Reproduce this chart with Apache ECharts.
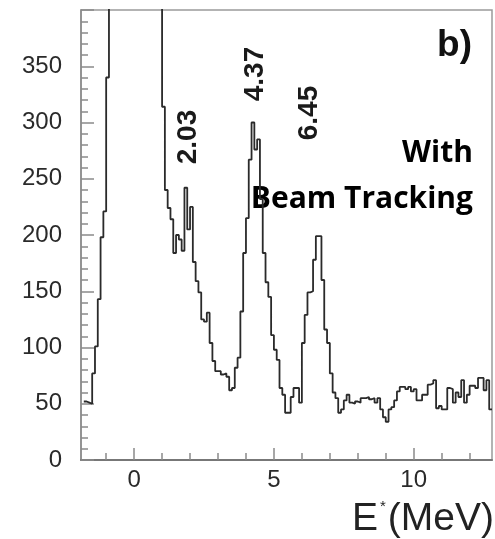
<!DOCTYPE html>
<html>
<head>
<meta charset="utf-8">
<script src="https://cdn.jsdelivr.net/npm/echarts@6/dist/echarts.min.js"></script>
<style>
html,body{margin:0;padding:0;background:#fff;}
#chart{width:495px;height:539px;}
</style>
</head>
<body>
<div id="chart"></div>
<script>
// Histogram: bin starts at binStart, each bin binWidth wide (MeV)
const binStart = -1.8;
const binWidth = 0.1;
const counts = [
  52, 51, 50, 77, 101, 143, 198, 221, 340,            // -1.8 .. -1.0
  900, 900, 900, 900, 900, 900, 900, 900, 900, 900,   // -0.9 .. 0.0 (off scale)
  900, 900, 900, 900, 900, 900, 900, 900, 900,        // 0.1 .. 0.9 (off scale)
  314, 240, 224, 214, 184, 200, 196, 186, 242, 205,   // 1.0 .. 1.9
  225, 176, 159, 149, 125, 123, 131, 104, 88, 79,     // 2.0 .. 2.9
  79, 76, 77, 74, 62, 64, 82, 91, 132, 184,           // 3.0 .. 3.9
  215, 267, 300, 276, 285, 232, 184, 158, 145, 111,   // 4.0 .. 4.9
  98, 89, 64, 58, 42, 42, 56, 64, 64, 51,             // 5.0 .. 5.9
  104, 129, 149, 150, 178, 199, 199, 160, 116, 104,   // 6.0 .. 6.9
  77, 60, 55, 42, 45, 53, 58, 51, 50, 52,             // 7.0 .. 7.9
  51, 55, 55, 56, 54, 55, 51, 55, 45, 38,             // 8.0 .. 8.9
  34, 45, 47, 53, 61, 65, 65, 63, 65, 61,             // 9.0 .. 9.9
  63, 53, 53, 58, 58, 67, 68, 71, 46, 48,             // 10.0 .. 10.9
  45, 45, 64, 63, 51, 60, 56, 71, 51, 58,             // 11.0 .. 11.9
  66, 66, 64, 73, 73, 62, 71, 45                      // 12.0 .. 12.7
];
const xLabelValues = [0, 5, 10];
const xMinorTickValues = [-1, 0, 1, 2, 3, 4, 5, 6, 7, 8, 9, 10, 11, 12];
const peakLabels = ['2.03', '4.37', '6.45'];

const pts = counts.map((v, i) => [+(binStart + i * binWidth).toFixed(2), v]);
pts.push([+(binStart + counts.length * binWidth).toFixed(2), counts[counts.length - 1]]);

const chart = echarts.init(document.getElementById('chart'));
const axisColor = '#8a8a8a';
const labelFont = 'Liberation Sans, Arial, sans-serif';
chart.setOption({
  animation: false,
  grid: { left: 81, top: 10, right: 3, bottom: 79, show: true, borderColor: '#9a9a9a', borderWidth: 1.5, backgroundColor: 'transparent' },
  xAxis: [{
    type: 'value', min: -1.9, max: 12.8, position: 'bottom',
    splitLine: { show: false },
    axisLine: { onZero: false, lineStyle: { color: '#777', width: 2 } },
    axisTick: { inside: true, length: 12, customValues: xLabelValues, lineStyle: { color: axisColor, width: 1.5 } },
    axisLabel: { customValues: xLabelValues, fontSize: 24, color: '#2a2a2a', fontFamily: labelFont, margin: 8 }
  }, {
    type: 'value', min: -1.9, max: 12.8, position: 'bottom', offset: 0,
    splitLine: { show: false },
    axisLine: { show: false, onZero: false },
    axisTick: { inside: true, length: 7, customValues: xMinorTickValues, lineStyle: { color: axisColor, width: 1.5 } },
    axisLabel: { show: false }
  }],
  yAxis: {
    type: 'value', min: 0, max: 400, interval: 50, position: 'left',
    splitLine: { show: false },
    axisLine: { show: true, onZero: false, lineStyle: { color: '#8a8a8a', width: 1.5 } },
    axisTick: { inside: true, length: 13, lineStyle: { color: axisColor, width: 1.5 } },
    minorTick: { show: true, splitNumber: 5, length: 7, lineStyle: { color: axisColor, width: 1.5 } },
    axisLabel: {
      fontSize: 24, color: '#2a2a2a', fontFamily: labelFont, margin: 19,
      formatter: v => (v >= 400 ? '' : String(v))
    }
  },
  series: [{
    type: 'line', step: 'end', data: pts, symbol: 'none', clip: true,
    xAxisIndex: 0, yAxisIndex: 0,
    lineStyle: { color: '#2a2a2a', width: 1.8 }
  }],
  graphic: [
    { type: 'text', x: 188, y: 137, rotation: Math.PI / 2,
      style: { text: peakLabels[0], font: 'bold 28px Liberation Sans, Arial, sans-serif', fill: '#1a1a1a', align: 'center', verticalAlign: 'middle' } },
    { type: 'text', x: 255, y: 74, rotation: Math.PI / 2,
      style: { text: peakLabels[1], font: 'bold 28px Liberation Sans, Arial, sans-serif', fill: '#1a1a1a', align: 'center', verticalAlign: 'middle' } },
    { type: 'text', x: 309, y: 113, rotation: Math.PI / 2,
      style: { text: peakLabels[2], font: 'bold 28px Liberation Sans, Arial, sans-serif', fill: '#1a1a1a', align: 'center', verticalAlign: 'middle' } },
    { type: 'text', x: 472, y: 46,
      style: { text: 'b)', font: 'bold 37px Liberation Sans, Arial, sans-serif', fill: '#111', align: 'right', verticalAlign: 'middle' } },
    { type: 'text', x: 473, y: 153,
      style: { text: 'With', font: 'bold 30px Open Sans, sans-serif', fill: '#000', align: 'right', verticalAlign: 'middle' } },
    { type: 'text', x: 473, y: 199,
      style: { text: 'Beam Tracking', font: 'bold 30px Open Sans, sans-serif', fill: '#000', align: 'right', verticalAlign: 'middle' } },
    { type: 'text', x: 494, y: 519,
      style: {
        text: '{e|E}{s|*}{e|(MeV)}', align: 'right', verticalAlign: 'middle',
        rich: {
          e: { fontSize: 39, fontFamily: 'Liberation Sans, Arial, sans-serif', fill: '#222', color: '#222' },
          s: { fontSize: 15, fontFamily: 'Liberation Sans, Arial, sans-serif', fill: '#222', color: '#222', verticalAlign: 'top', padding: [0, 2, 24, 2] }
        }
      } }
  ]
});
</script>
</body>
</html>
